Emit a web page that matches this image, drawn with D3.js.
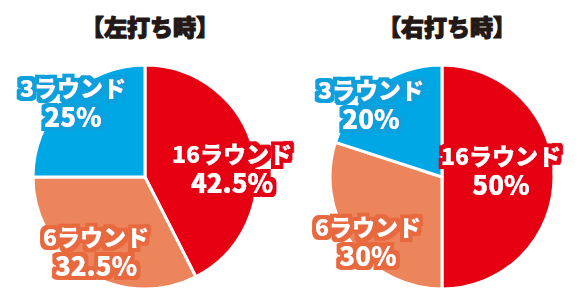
<!DOCTYPE html>
<html><head><meta charset="utf-8">
<script src="https://cdn.jsdelivr.net/npm/d3@7"></script>
<style>
html,body{margin:0;padding:0;background:#fff;}
svg{display:block;}
text{font-family:"Noto Sans CJK JP","Noto Sans",sans-serif;font-weight:900;}
</style></head>
<body>
<svg id="chart" width="580" height="308"></svg>
<script>
// ---- data ----
const charts = ["【左打ち時】", "【右打ち時】"];
const categories = ["16ラウンド", "6ラウンド", "3ラウンド"];
const leftValues = [42.5, 32.5, 25];
const rightValues = [50, 30, 20];
const valueLabels = [["42.5%", "32.5%", "25%"], ["50%", "30%", "20%"]];

// ---- styles / layout ----
const sliceColors = ["#e60012", "#ec845c", "#00a7e5"];
const outlineColors = ["#e60012", "#e8693e", "#0aa0dc"];
const centers = [[145, 177], [442, 177]];
const radius = 112;
// label anchor offsets (relative to pie centre, first-line baseline)
const labelOffsets = [
  [[87, -14], [-49, 69], [-72, -80]],
  [[59, -12], [-74, 59], [-71, -78]]
];
const titleY = 36;

const svg = d3.select("#chart");
const defs = svg.append("defs");
outlineColors.forEach((c, i) => {
  const f = defs.append("filter").attr("id", "outline" + i)
    .attr("x", "-20%").attr("y", "-30%").attr("width", "140%").attr("height", "160%");
  f.append("feMorphology").attr("in", "SourceAlpha").attr("operator", "dilate").attr("radius", 3.5).attr("result", "thick");
  f.append("feFlood").attr("flood-color", c).attr("result", "col");
  f.append("feComposite").attr("in", "col").attr("in2", "thick").attr("operator", "in").attr("result", "ring");
  f.append("feMorphology").attr("in", "SourceGraphic").attr("operator", "dilate").attr("radius", 0.4).attr("result", "face");
  const m = f.append("feMerge");
  m.append("feMergeNode").attr("in", "ring");
  m.append("feMergeNode").attr("in", "face");
});

const pie = d3.pie().sort(null).value(d => d);
const arc = d3.arc().innerRadius(0).outerRadius(radius);

[leftValues, rightValues].forEach((vals, ci) => {
  const g = svg.append("g").attr("transform", `translate(${centers[ci][0]},${centers[ci][1]})`);
  const arcs = pie(vals);
  g.selectAll("path").data(arcs).join("path")
    .attr("d", arc)
    .attr("fill", (d, i) => sliceColors[i])
    .attr("stroke", "#fff")
    .attr("stroke-width", 3)
    .attr("stroke-linejoin", "miter");

  g.selectAll("text.lab").data(arcs).join("text").attr("class", "lab")
    .attr("transform", (d, i) => `translate(${labelOffsets[ci][i][0]},${labelOffsets[ci][i][1]})`)
    .attr("filter", (d, i) => `url(#outline${i})`)
    .attr("text-anchor", "middle")
    .attr("fill", "#fff")
    .each(function(d, i) {
      const t = d3.select(this);
      t.append("tspan").attr("x", 0).attr("y", 0).attr("font-size", 23).text(categories[i]);
      t.append("tspan").attr("x", 0).attr("y", 30).attr("font-size", 26).text(valueLabels[ci][i]);
    });

  svg.append("text")
    .attr("x", centers[ci][0] + 5)
    .attr("y", titleY)
    .attr("text-anchor", "middle")
    .attr("font-size", 23)
    .attr("fill", "#231815")
    .attr("stroke", "#231815")
    .attr("stroke-width", 1.2)
    .attr("stroke-linejoin", "round")
    .text(charts[ci]);
});
</script>
</body></html>
